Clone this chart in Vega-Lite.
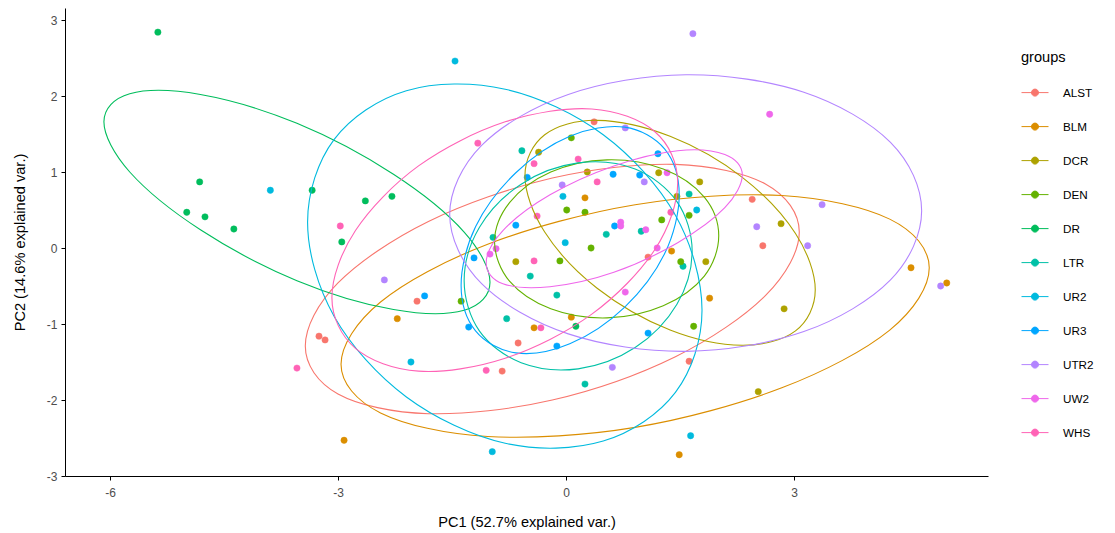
{
"$schema": "https://vega.github.io/schema/vega-lite/v6.json",
"width": 923, "height": 468,
"autosize": {"type": "none"},
"padding": {"left": 65, "top": 8, "right": 127, "bottom": 57},
"background": "white",
"config": {
  "view": {"stroke": null},
  "font": "Liberation Sans",
  "axis": {"domainColor": "black", "tickColor": "black", "grid": false, "labelColor": "#4D4D4D", "labelFontSize": 12, "titleFontSize": 14.6, "titleFontWeight": "normal", "titleColor": "black", "tickSize": 4},
  "legend": {"titleFontSize": 14.6, "titleFontWeight": "normal", "titleColor": "black", "labelFontSize": 11.7, "labelColor": "black", "padding": 0}
},
"datasets": {
"pts": [
{"g":"DR","x":-5.37,"y":2.84},{"g":"DR","x":-4.82,"y":0.87},{"g":"DR","x":-4.99,"y":0.47},{"g":"DR","x":-4.75,"y":0.41},{"g":"DR","x":-4.37,"y":0.25},{"g":"DR","x":-3.34,"y":0.76},{"g":"DR","x":-2.64,"y":0.62},{"g":"DR","x":-2.29,"y":0.68},{"g":"DR","x":-2.95,"y":0.08},{"g":"DR","x":0.13,"y":-1.03},
{"g":"UR2","x":-3.89,"y":0.76},{"g":"UR2","x":-1.46,"y":2.46},{"g":"UR2","x":-0.04,"y":0.68},{"g":"UR2","x":1.72,"y":0.50},{"g":"UR2","x":-0.01,"y":0.07},{"g":"UR2","x":-2.04,"y":-1.50},{"g":"UR2","x":-0.97,"y":-2.68},{"g":"UR2","x":1.64,"y":-2.47},
{"g":"UR3","x":-1.86,"y":-0.63},{"g":"UR3","x":-1.21,"y":-0.13},{"g":"UR3","x":-0.66,"y":0.30},{"g":"UR3","x":-0.51,"y":0.93},{"g":"UR3","x":0.62,"y":0.97},{"g":"UR3","x":0.97,"y":0.96},{"g":"UR3","x":1.21,"y":1.24},{"g":"UR3","x":0.64,"y":0.29},{"g":"UR3","x":-0.12,"y":-1.29},{"g":"UR3","x":1.08,"y":-1.12},{"g":"UR3","x":-1.28,"y":-1.04},
{"g":"LTR","x":-0.58,"y":1.28},{"g":"LTR","x":-0.96,"y":0.14},{"g":"LTR","x":-0.78,"y":-0.93},{"g":"LTR","x":1.62,"y":0.71},{"g":"LTR","x":0.53,"y":0.18},{"g":"LTR","x":0.99,"y":0.22},{"g":"LTR","x":1.54,"y":-0.24},{"g":"LTR","x":-0.47,"y":-0.37},{"g":"LTR","x":-0.12,"y":-0.62},{"g":"LTR","x":0.25,"y":-1.79},
{"g":"ALST","x":0.37,"y":1.66},{"g":"ALST","x":2.45,"y":0.64},{"g":"ALST","x":2.59,"y":0.03},{"g":"ALST","x":1.08,"y":-0.12},{"g":"ALST","x":-1.96,"y":-0.70},{"g":"ALST","x":-3.25,"y":-1.16},{"g":"ALST","x":-3.17,"y":-1.21},{"g":"ALST","x":-0.63,"y":-1.25},{"g":"ALST","x":-0.84,"y":-1.62},{"g":"ALST","x":1.62,"y":-1.49},
{"g":"BLM","x":0.25,"y":0.66},{"g":"BLM","x":1.39,"y":-0.04},{"g":"BLM","x":-2.22,"y":-0.93},{"g":"BLM","x":0.07,"y":-0.91},{"g":"BLM","x":-0.42,"y":-1.05},{"g":"BLM","x":1.89,"y":-0.66},{"g":"BLM","x":4.54,"y":-0.26},{"g":"BLM","x":5.01,"y":-0.46},{"g":"BLM","x":-2.92,"y":-2.53},{"g":"BLM","x":1.49,"y":-2.72},
{"g":"DCR","x":-0.36,"y":1.26},{"g":"DCR","x":0.28,"y":1.00},{"g":"DCR","x":1.22,"y":0.99},{"g":"DCR","x":1.76,"y":0.87},{"g":"DCR","x":1.46,"y":0.68},{"g":"DCR","x":-0.66,"y":-0.18},{"g":"DCR","x":1.84,"y":-0.18},{"g":"DCR","x":2.83,"y":0.32},{"g":"DCR","x":2.87,"y":-0.80},{"g":"DCR","x":2.53,"y":-1.89},
{"g":"DEN","x":0.07,"y":1.45},{"g":"DEN","x":0.01,"y":0.50},{"g":"DEN","x":0.25,"y":0.47},{"g":"DEN","x":1.26,"y":0.37},{"g":"DEN","x":1.62,"y":0.43},{"g":"DEN","x":0.33,"y":0.00},{"g":"DEN","x":-0.08,"y":-0.17},{"g":"DEN","x":1.51,"y":-0.18},{"g":"DEN","x":-1.38,"y":-0.70},{"g":"DEN","x":1.68,"y":-1.03},
{"g":"UTR2","x":1.67,"y":2.82},{"g":"UTR2","x":0.78,"y":1.58},{"g":"UTR2","x":-0.05,"y":0.83},{"g":"UTR2","x":1.03,"y":0.87},{"g":"UTR2","x":3.37,"y":0.57},{"g":"UTR2","x":2.51,"y":0.28},{"g":"UTR2","x":3.18,"y":0.03},{"g":"UTR2","x":4.93,"y":-0.50},{"g":"UTR2","x":-2.39,"y":-0.42},{"g":"UTR2","x":0.61,"y":-1.57},
{"g":"UW2","x":2.68,"y":1.76},{"g":"UW2","x":1.33,"y":0.99},{"g":"UW2","x":0.72,"y":0.34},{"g":"UW2","x":0.72,"y":0.29},{"g":"UW2","x":1.05,"y":0.24},{"g":"UW2","x":1.20,"y":0.00},{"g":"UW2","x":-1.00,"y":-0.08},{"g":"UW2","x":-0.92,"y":-0.01},{"g":"UW2","x":0.78,"y":-0.58},
{"g":"WHS","x":-1.16,"y":1.38},{"g":"WHS","x":0.16,"y":1.17},{"g":"WHS","x":-0.42,"y":1.11},{"g":"WHS","x":0.41,"y":0.87},{"g":"WHS","x":-0.38,"y":0.42},{"g":"WHS","x":1.38,"y":0.47},{"g":"WHS","x":-0.42,"y":-0.17},{"g":"WHS","x":-2.97,"y":0.29},{"g":"WHS","x":-3.54,"y":-1.58},{"g":"WHS","x":-1.05,"y":-1.61},{"g":"WHS","x":-0.33,"y":-1.05}
],
"ell": [
{"g":"ALST","k":0,"x":3.07,"y":0.21},{"g":"ALST","k":1,"x":2.63,"y":0.84},{"g":"ALST","k":2,"x":1.44,"y":1.10},{"g":"ALST","k":3,"x":-0.18,"y":0.92},{"g":"ALST","k":4,"x":-1.81,"y":0.35},{"g":"ALST","k":5,"x":-3.00,"y":-0.46},{"g":"ALST","k":6,"x":-3.43,"y":-1.29},{"g":"ALST","k":7,"x":-3.00,"y":-1.92},{"g":"ALST","k":8,"x":-1.81,"y":-2.18},{"g":"ALST","k":9,"x":-0.18,"y":-2.00},{"g":"ALST","k":10,"x":1.44,"y":-1.43},{"g":"ALST","k":11,"x":2.63,"y":-0.62},
{"g":"BLM","k":0,"x":4.78,"y":-0.26},{"g":"BLM","k":1,"x":4.26,"y":0.38},{"g":"BLM","k":2,"x":2.84,"y":0.69},{"g":"BLM","k":3,"x":0.91,"y":0.57},{"g":"BLM","k":4,"x":-1.03,"y":0.05},{"g":"BLM","k":5,"x":-2.44,"y":-0.71},{"g":"BLM","k":6,"x":-2.96,"y":-1.53},{"g":"BLM","k":7,"x":-2.44,"y":-2.17},{"g":"BLM","k":8,"x":-1.03,"y":-2.48},{"g":"BLM","k":9,"x":0.91,"y":-2.36},{"g":"BLM","k":10,"x":2.84,"y":-1.84},{"g":"BLM","k":11,"x":4.26,"y":-1.08},
{"g":"DCR","k":0,"x":3.28,"y":-0.55},{"g":"DCR","k":1,"x":3.02,"y":0.19},{"g":"DCR","k":2,"x":2.32,"y":0.93},{"g":"DCR","k":3,"x":1.37,"y":1.47},{"g":"DCR","k":4,"x":0.41,"y":1.68},{"g":"DCR","k":5,"x":-0.28,"y":1.49},{"g":"DCR","k":6,"x":-0.54,"y":0.95},{"g":"DCR","k":7,"x":-0.28,"y":0.21},{"g":"DCR","k":8,"x":0.41,"y":-0.53},{"g":"DCR","k":9,"x":1.37,"y":-1.08},{"g":"DCR","k":10,"x":2.32,"y":-1.28},{"g":"DCR","k":11,"x":3.02,"y":-1.09},
{"g":"DEN","k":0,"x":2.01,"y":0.16},{"g":"DEN","k":1,"x":1.82,"y":0.67},{"g":"DEN","k":2,"x":1.28,"y":1.04},{"g":"DEN","k":3,"x":0.54,"y":1.16},{"g":"DEN","k":4,"x":-0.20,"y":1.00},{"g":"DEN","k":5,"x":-0.74,"y":0.60},{"g":"DEN","k":6,"x":-0.94,"y":0.08},{"g":"DEN","k":7,"x":-0.74,"y":-0.44},{"g":"DEN","k":8,"x":-0.20,"y":-0.80},{"g":"DEN","k":9,"x":0.54,"y":-0.92},{"g":"DEN","k":10,"x":1.28,"y":-0.76},{"g":"DEN","k":11,"x":1.82,"y":-0.37},
{"g":"DR","k":0,"x":-1.00,"y":-0.45},{"g":"DR","k":1,"x":-1.34,"y":0.21},{"g":"DR","k":2,"x":-2.27,"y":0.97},{"g":"DR","k":3,"x":-3.54,"y":1.64},{"g":"DR","k":4,"x":-4.81,"y":2.02},{"g":"DR","k":5,"x":-5.74,"y":2.03},{"g":"DR","k":6,"x":-6.08,"y":1.66},{"g":"DR","k":7,"x":-5.74,"y":1.00},{"g":"DR","k":8,"x":-4.81,"y":0.24},{"g":"DR","k":9,"x":-3.54,"y":-0.43},{"g":"DR","k":10,"x":-2.27,"y":-0.81},{"g":"DR","k":11,"x":-1.34,"y":-0.82},
{"g":"LTR","k":0,"x":1.66,"y":-0.04},{"g":"LTR","k":1,"x":1.46,"y":0.61},{"g":"LTR","k":2,"x":0.91,"y":1.04},{"g":"LTR","k":3,"x":0.16,"y":1.12},{"g":"LTR","k":4,"x":-0.59,"y":0.84},{"g":"LTR","k":5,"x":-1.14,"y":0.27},{"g":"LTR","k":6,"x":-1.34,"y":-0.43},{"g":"LTR","k":7,"x":-1.14,"y":-1.09},{"g":"LTR","k":8,"x":-0.59,"y":-1.51},{"g":"LTR","k":9,"x":0.16,"y":-1.59},{"g":"LTR","k":10,"x":0.91,"y":-1.31},{"g":"LTR","k":11,"x":1.46,"y":-0.74},
{"g":"UR2","k":0,"x":1.79,"y":-0.82},{"g":"UR2","k":1,"x":1.44,"y":0.43},{"g":"UR2","k":2,"x":0.49,"y":1.49},{"g":"UR2","k":3,"x":-0.80,"y":2.09},{"g":"UR2","k":4,"x":-2.10,"y":2.07},{"g":"UR2","k":5,"x":-3.05,"y":1.43},{"g":"UR2","k":6,"x":-3.40,"y":0.34},{"g":"UR2","k":7,"x":-3.05,"y":-0.90},{"g":"UR2","k":8,"x":-2.10,"y":-1.96},{"g":"UR2","k":9,"x":-0.80,"y":-2.57},{"g":"UR2","k":10,"x":0.49,"y":-2.54},{"g":"UR2","k":11,"x":1.44,"y":-1.90},
{"g":"UR3","k":0,"x":1.49,"y":0.70},{"g":"UR3","k":1,"x":1.30,"y":1.30},{"g":"UR3","k":2,"x":0.77,"y":1.59},{"g":"UR3","k":3,"x":0.05,"y":1.47},{"g":"UR3","k":4,"x":-0.66,"y":0.99},{"g":"UR3","k":5,"x":-1.19,"y":0.28},{"g":"UR3","k":6,"x":-1.38,"y":-0.49},{"g":"UR3","k":7,"x":-1.19,"y":-1.09},{"g":"UR3","k":8,"x":-0.66,"y":-1.38},{"g":"UR3","k":9,"x":0.05,"y":-1.26},{"g":"UR3","k":10,"x":0.77,"y":-0.78},{"g":"UR3","k":11,"x":1.30,"y":-0.07},
{"g":"UTR2","k":0,"x":4.68,"y":0.49},{"g":"UTR2","k":1,"x":4.27,"y":1.39},{"g":"UTR2","k":2,"x":3.13,"y":2.05},{"g":"UTR2","k":3,"x":1.58,"y":2.28},{"g":"UTR2","k":4,"x":0.03,"y":2.02},{"g":"UTR2","k":5,"x":-1.11,"y":1.35},{"g":"UTR2","k":6,"x":-1.53,"y":0.44},{"g":"UTR2","k":7,"x":-1.11,"y":-0.47},{"g":"UTR2","k":8,"x":0.03,"y":-1.13},{"g":"UTR2","k":9,"x":1.58,"y":-1.36},{"g":"UTR2","k":10,"x":3.13,"y":-1.10},{"g":"UTR2","k":11,"x":4.27,"y":-0.42},
{"g":"UW2","k":0,"x":2.32,"y":0.96},{"g":"UW2","k":1,"x":2.09,"y":1.23},{"g":"UW2","k":2,"x":1.47,"y":1.28},{"g":"UW2","k":3,"x":0.63,"y":1.08},{"g":"UW2","k":4,"x":-0.21,"y":0.70},{"g":"UW2","k":5,"x":-0.83,"y":0.23},{"g":"UW2","k":6,"x":-1.05,"y":-0.20},{"g":"UW2","k":7,"x":-0.83,"y":-0.47},{"g":"UW2","k":8,"x":-0.21,"y":-0.51},{"g":"UW2","k":9,"x":0.63,"y":-0.32},{"g":"UW2","k":10,"x":1.47,"y":0.07},{"g":"UW2","k":11,"x":2.09,"y":0.53},
{"g":"WHS","k":0,"x":1.47,"y":0.86},{"g":"WHS","k":1,"x":1.17,"y":1.53},{"g":"WHS","k":2,"x":0.34,"y":1.83},{"g":"WHS","k":3,"x":-0.80,"y":1.66},{"g":"WHS","k":4,"x":-1.94,"y":1.08},{"g":"WHS","k":5,"x":-2.77,"y":0.23},{"g":"WHS","k":6,"x":-3.08,"y":-0.65},{"g":"WHS","k":7,"x":-2.77,"y":-1.32},{"g":"WHS","k":8,"x":-1.94,"y":-1.62},{"g":"WHS","k":9,"x":-0.80,"y":-1.45},{"g":"WHS","k":10,"x":0.34,"y":-0.87},{"g":"WHS","k":11,"x":1.17,"y":-0.02}
]
},
"layer": [
{
  "data": {"name": "pts"},
  "mark": {"type": "point", "filled": true, "size": 40, "opacity": 1, "strokeWidth": 0.5},
  "encoding": {
    "x": {"field": "x", "type": "quantitative", "scale": {"domain": [-6.592, 5.553], "nice": false, "zero": false}, "axis": {"values": [-6, -3, 0, 3], "labelExpr": "'' + datum.value", "title": "PC1 (52.7% explained var.)", "labelPadding": 7, "titlePadding": 16}},
    "y": {"field": "y", "type": "quantitative", "scale": {"domain": [-3.0, 3.158], "nice": false, "zero": false}, "axis": {"values": [-3, -2, -1, 0, 1, 2, 3], "labelExpr": "'' + datum.value", "title": "PC2 (14.6% explained var.)", "labelPadding": 4, "titlePadding": 19}},
    "fill": {"field": "g", "type": "nominal", "scale": {"domain": ["ALST","BLM","DCR","DEN","DR","LTR","UR2","UR3","UTR2","UW2","WHS"], "range": ["#F8766D","#DB8E00","#AEA200","#64B200","#00BD5C","#00C1A7","#00BADE","#00A6FF","#B385FF","#EF67EB","#FF63B6"]},
      "legend": {"title": "groups", "orient": "none", "legendX": 956, "legendY": 42, "symbolType": "M-1,0L1,0M-0.26,0A0.26,0.26,0,1,1,0.26,0A0.26,0.26,0,1,1,-0.26,0Z", "symbolSize": 729, "symbolStrokeWidth": 1, "rowPadding": 13, "titlePadding": 14, "labelOffset": 14}},
    "stroke": {"field": "g", "type": "nominal", "scale": {"domain": ["ALST","BLM","DCR","DEN","DR","LTR","UR2","UR3","UTR2","UW2","WHS"], "range": ["#F8766D","#DB8E00","#AEA200","#64B200","#00BD5C","#00C1A7","#00BADE","#00A6FF","#B385FF","#EF67EB","#FF63B6"]},
      "legend": {"title": "groups", "orient": "none", "legendX": 956, "legendY": 42, "symbolType": "M-1,0L1,0M-0.26,0A0.26,0.26,0,1,1,0.26,0A0.26,0.26,0,1,1,-0.26,0Z", "symbolSize": 729, "symbolStrokeWidth": 1, "rowPadding": 13, "titlePadding": 14, "labelOffset": 14}}
  }
},
{
  "data": {"name": "ell"},
  "mark": {"type": "line", "interpolate": "cardinal-closed", "strokeWidth": 1.1},
  "encoding": {
    "x": {"field": "x", "type": "quantitative"},
    "y": {"field": "y", "type": "quantitative"},
    "stroke": {"field": "g", "type": "nominal"},
    "order": {"field": "k", "type": "quantitative"}
  }
}
]
}
